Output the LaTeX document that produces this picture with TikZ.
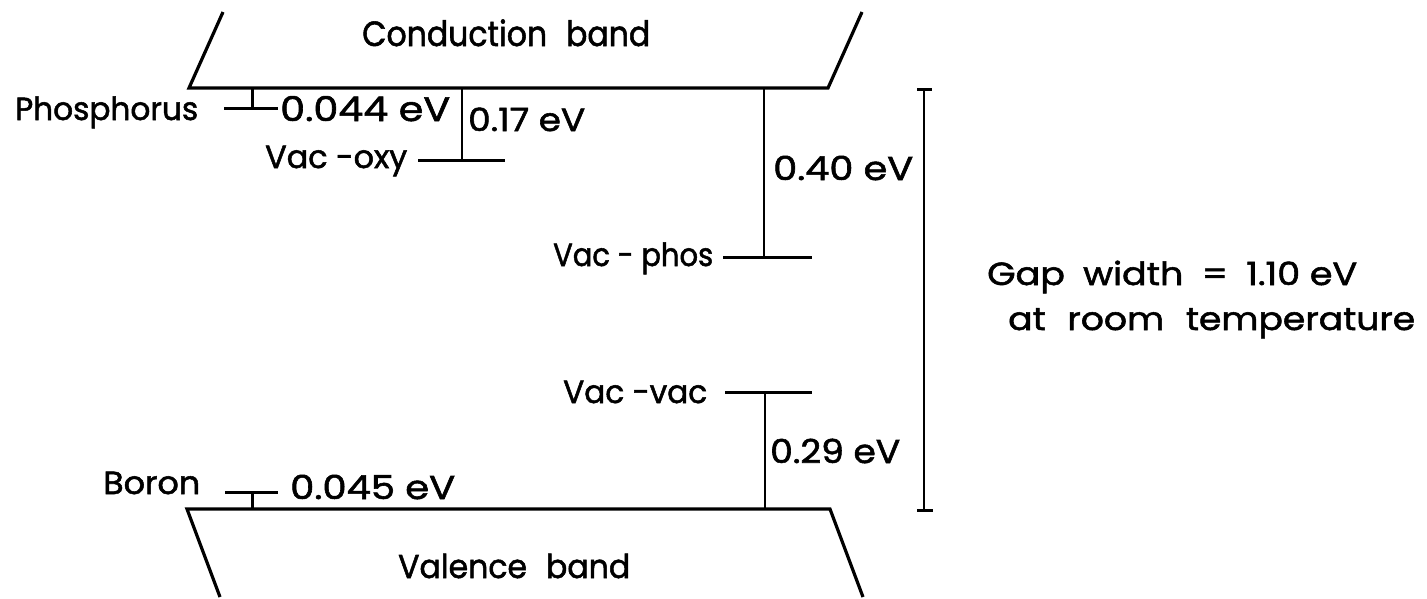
\documentclass[tikz,border=0pt]{standalone}
\usepackage{fontspec}
\setmainfont{Poppins}[FakeBold=1.6]
\usepackage{graphicx}
\newcommand{\fw}[3][32]{\resizebox{#2pt}{\height}{\fontsize{#1}{#1}\selectfont #3}}
\begin{document}
\begin{tikzpicture}[x=1pt,y=-1pt,
  band/.style={line width=3.2pt, line join=miter},
  lvl/.style={line width=3pt},
  conn/.style={line width=1.8pt},
  gapbar/.style={line width=1.3pt},
  lab/.style={inner sep=0pt, anchor=base west}]
\useasboundingbox (0,0) rectangle (1427,598);
% conduction band
\coordinate (c1) at (223,12);
\coordinate (c2) at (189,88);
\coordinate (c3) at (828,88);
\coordinate (c4) at (862,12);
\draw[band] (c1) -- (c2) -- (c3) -- (c4);
% valence band
\coordinate (v1) at (220,597);
\coordinate (v2) at (187,509);
\coordinate (v3) at (830,509);
\coordinate (v4) at (863,597);
\draw[band] (v1) -- (v2) -- (v3) -- (v4);
% phosphorus level
\coordinate (pL) at (224,108);
\coordinate (pR) at (278,108);
\coordinate (pM) at (252,108);
\coordinate (pT) at (252,88);
\draw[lvl] (pL) -- (pR);
\draw[lvl] (pM) -- (pT);
% vac-oxy level
\coordinate (oL) at (418,160);
\coordinate (oR) at (505,160);
\coordinate (oM) at (462,160);
\coordinate (oT) at (462,88);
\draw[lvl] (oL) -- (oR);
\draw[conn] (oM) -- (oT);
% vac-phos level
\coordinate (fL) at (723,257);
\coordinate (fR) at (812,257);
\coordinate (fM) at (764,257);
\coordinate (fT) at (764,88);
\draw[lvl] (fL) -- (fR);
\draw[conn] (fM) -- (fT);
% vac-vac level
\coordinate (wL) at (725,392);
\coordinate (wR) at (812,392);
\coordinate (wM) at (765,392);
\coordinate (wB) at (765,509);
\draw[lvl] (wL) -- (wR);
\draw[conn] (wM) -- (wB);
% boron level
\coordinate (bL) at (225,492);
\coordinate (bR) at (278,492);
\coordinate (bM) at (252,492);
\coordinate (bB) at (252,509);
\draw[lvl] (bL) -- (bR);
\draw[lvl] (bM) -- (bB);
% gap bar
\coordinate (gT) at (924,89);
\coordinate (gB) at (924,510);
\coordinate (gTL) at (917,89);
\coordinate (gTR) at (932,89);
\coordinate (gBL) at (917,510);
\coordinate (gBR) at (933,510);
\draw[gapbar] (gT) -- (gB);
\draw[lvl] (gTL) -- (gTR);
\draw[lvl] (gBL) -- (gBR);
% labels
\node[lab] (tcb) at (362,46) {\fw[35]{288}{Conduction\hspace{0.6em}band}};
\node[lab] (tph) at (15,120) {\fw{183}{Phosphorus}};
\node[lab] (t044) at (280,121) {\fw[34]{170}{0.044 eV}};
\node[lab] (t017) at (468,131) {\fw{117}{0.17 eV}};
\node[lab] (tvo) at (265,168) {\fw{142}{Vac -oxy}};
\node[lab] (t040) at (773,180) {\fw[33]{140}{0.40 eV}};
\node[lab] (tvp) at (553,266) {\fw{160}{Vac - phos}};
\node[lab] (tgap) at (987,285) {\fw{370}{Gap\hspace{0.5em}width\hspace{0.5em}=\hspace{0.5em}1.10 eV}};
\node[lab] (troom) at (1008,330) {\fw{407}{at\hspace{0.6em}room\hspace{0.6em}temperature}};
\node[lab] (tvv) at (563,403) {\fw{144}{Vac -vac}};
\node[lab] (t029) at (770,463) {\fw[33]{130}{0.29 eV}};
\node[lab] (tbo) at (103,494) {\fw{97}{Boron}};
\node[lab] (t045) at (290,499) {\fw[33]{165}{0.045 eV}};
\node[lab] (tvb) at (398,578) {\fw[33]{232}{Valence\hspace{0.6em}band}};
\end{tikzpicture}
\end{document}
